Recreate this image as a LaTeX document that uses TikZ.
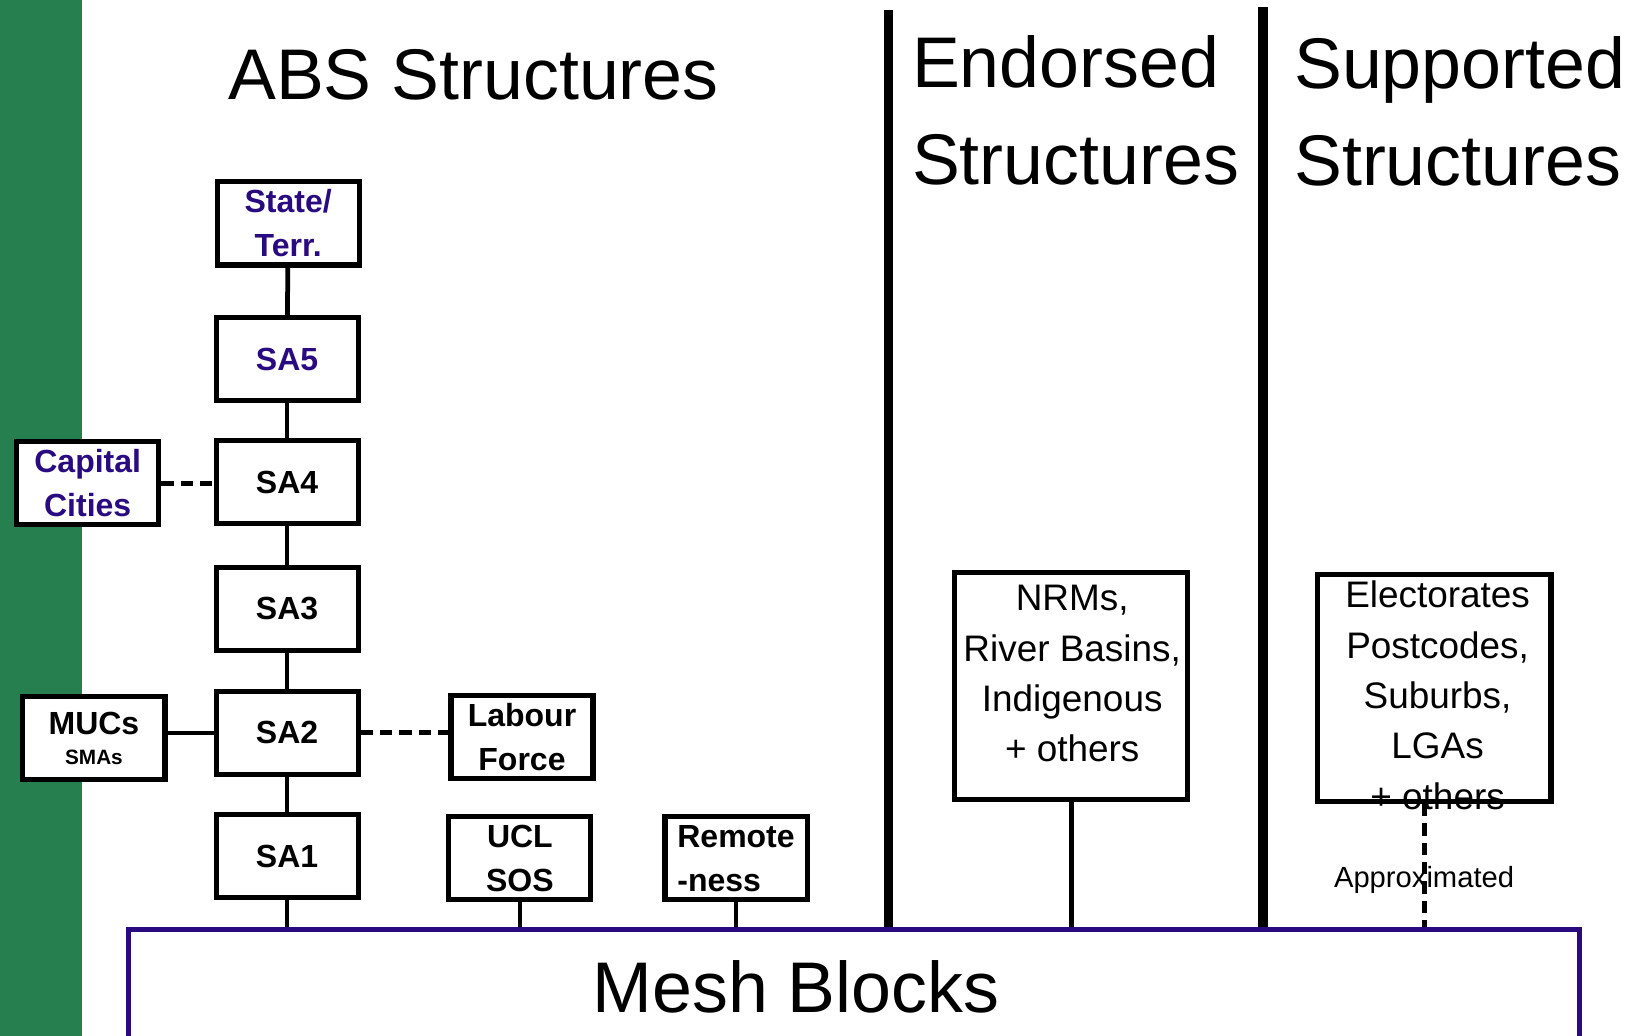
\documentclass[tikz,border=0pt]{standalone}
\usepackage{fontspec}
\setmainfont{Liberation Sans}
\usepackage{xcolor}
\usepackage{tikz}
\usetikzlibrary{positioning}
\definecolor{absgreen}{RGB}{38,127,78}
\definecolor{absindigo}{RGB}{42,10,128}

\begin{document}
\begin{tikzpicture}[x=0.01044cm, y=-0.01044cm,
  every node/.style={inner sep=0pt},
  box/.style={draw, line width=1.45pt, rectangle, minimum width=1.42cm, minimum height=0.83cm, fill=white, align=center, font=\fontsize{9.1}{12.5}\selectfont\bfseries},
  bigbox/.style={draw, line width=1.45pt, rectangle, minimum width=2.33cm, minimum height=2.27cm},
  boxtext/.style={font=\fontsize{10.5}{14.3}\selectfont, align=center, anchor=north},
  head/.style={font=\fontsize{20.4}{27.6}\selectfont, align=left},
  link/.style={line width=1.35pt},
  dashlink/.style={line width=1.4pt, dash pattern=on 3.5pt off 2pt},
  divider/.style={line width=2.8pt}]
  \useasboundingbox (0,0) rectangle (1568,992);
  \fill[white] (0,0) rectangle (1568,992);
  \fill[absgreen] (0,0) rectangle (79,992);

  % headings
  \node[head, anchor=base west] (abs) at (218,95) {ABS Structures};
  \node[head, anchor=north west] (endorsed) at (873,33) {Endorsed\\Structures};
  \node[head, anchor=north west] (supported) at (1239,34) {Supported\\Structures};

  % mesh blocks
  \node[draw=absindigo, line width=1.45pt, minimum width=14.5cm, minimum height=1.5cm, anchor=north] (mesh) at (818,888) {};
  \node[head, anchor=base west] (meshtxt) at (567,970) {Mesh Blocks};

  % ABS structures
  \node[box, text=absindigo] (state) at (276,214) {State/\\Terr.};
  \node[box, text=absindigo] (sa5) at (275,344) {SA5};
  \node[box] (sa4) at (275,462) {SA4};
  \node[box] (sa3) at (275,583) {SA3};
  \node[box] (sa2) at (275,702) {SA2};
  \node[box] (sa1) at (275,820) {SA1};
  \node[box, text=absindigo] (capital) at (84,463) {Capital\\Cities};
  \node[box] (mucs) at (90,707) {MUCs\\[-4pt]{\fontsize{5.9}{7}\selectfont SMAs}};
  \node[box] (labour) at (500,706) {Labour\\Force};
  \node[box] (ucl) at (498,822) {UCL\\SOS};
  \node[box, align=left] (remote) at (705,822) {Remote\\-ness};

  % endorsed and supported
  \node[bigbox] (nrm) at (1026,657) {};
  \node[boxtext] (nrmtxt) at (1027,560) {NRMs,\\River Basins,\\Indigenous\\+ others};
  \node[bigbox] (elect) at (1374,659) {};
  \node[boxtext] (electtxt) at (1377,556) {Electorates\\Postcodes,\\Suburbs,\\LGAs\\+ others};

  \foreach \a/\b in {state/sa5, sa5/sa4, sa4/sa3, sa3/sa2, sa2/sa1}
    \draw[link] (\a) -- (\b);
  \draw[link] (sa2) -- (sa2 -| mucs.east);
  \draw[dashlink] (sa2) -- (sa2 -| labour.west);
  \draw[dashlink] (capital) -- (capital -| sa4.west);
  \foreach \n in {sa1, ucl, remote, nrm}
    \draw[link] (\n) -- (\n |- mesh.north);

  \coordinate (endline) at (851,10);
  \coordinate (supline) at (1210,7);
  \draw[divider] (endline) -- (endline |- mesh.north);
  \draw[divider] (supline) -- (supline |- mesh.north);

  \coordinate (approxtop) at ([xshift=-0.104cm]elect.south);
  \draw[dashlink] (approxtop) -- (approxtop |- mesh.north)
    node[pos=0.62, font=\fontsize{8.3}{10}\selectfont] (approx) {Approximated};
\end{tikzpicture}
\end{document}
